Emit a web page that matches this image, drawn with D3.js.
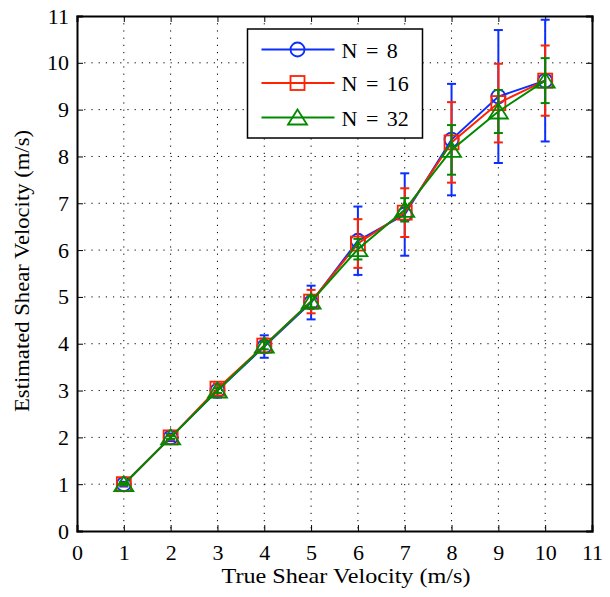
<!DOCTYPE html>
<html lang="en">
<head>
<meta charset="UTF-8">
<title>Estimated vs True Shear Velocity</title>
<script src="https://d3js.org/d3.v7.min.js"></script>
<style>
    body { margin: 0; background: #fff; }
    svg { display: block; font-family: 'Liberation Serif', 'Times New Roman', serif; }
    .grid line { stroke: #000; stroke-width: 1; stroke-dasharray: 1.2, 6; }
</style>
</head>
<body>
<div id="chart"></div>
<script>
// true shear velocity (x positions)
const trueVel = [1, 2, 3, 4, 5, 6, 7, 8, 9, 10];

// estimated means per number of samples
const meanN8  = [1.0, 2.0, 3.0, 3.94, 4.88, 6.20, 6.76, 8.36, 9.28, 9.62];
const meanN16 = [1.0, 2.0, 3.04, 3.96, 4.90, 6.14, 6.80, 8.30, 9.14, 9.62];
const meanN32 = [1.0, 2.0, 3.0, 3.96, 4.90, 6.02, 6.86, 8.14, 8.96, 9.62];

// half-length of error bars (std)
const errN8  = [0.05, 0.08, 0.15, 0.24, 0.36, 0.73, 0.88, 1.19, 1.42, 1.30];
const errN16 = [0.03, 0.05, 0.10, 0.15, 0.25, 0.52, 0.52, 0.86, 0.84, 0.75];
const errN32 = [0.02, 0.03, 0.05, 0.08, 0.12, 0.22, 0.25, 0.53, 0.46, 0.48];

const seriesNames = ["N = 8", "N = 16", "N = 32"];
const xTicks = d3.range(0, 12);
const yTicks = d3.range(0, 12);

const W = 610, H = 597;
const margin = { top: 16, right: 18, bottom: 66, left: 77 };
const innerW = W - margin.left - margin.right;
const innerH = H - margin.top - margin.bottom;

const colors = ["#0a2eff", "#ff2200", "#008a00"];
const shapes = ["circle", "square", "triangle"];

const series = seriesNames.map((name, k) => ({
    name: name,
    color: colors[k],
    shape: shapes[k],
    values: trueVel.map((x, i) => ({
        x: x,
        y: [meanN8, meanN16, meanN32][k][i],
        e: [errN8, errN16, errN32][k][i]
    }))
}));

const svg = d3.select("#chart").append("svg")
    .attr("width", W)
    .attr("height", H);

const g = svg.append("g")
    .attr("transform", `translate(${margin.left},${margin.top})`);

const x = d3.scaleLinear().domain([0, 11]).range([0, innerW]);
const y = d3.scaleLinear().domain([0, 11]).range([innerH, 0]);

// dotted grid
const grid = g.append("g").attr("class", "grid");
grid.selectAll(".vx").data(xTicks.slice(1, -1)).enter().append("line")
    .attr("x1", d => x(d)).attr("x2", d => x(d))
    .attr("y1", 0).attr("y2", innerH);
grid.selectAll(".hy").data(yTicks.slice(1, -1)).enter().append("line")
    .attr("y1", d => y(d)).attr("y2", d => y(d))
    .attr("x1", 0).attr("x2", innerW);

// axes with inward ticks on all four sides
const tickLen = 6;
g.append("g")
    .attr("transform", `translate(0,${innerH})`)
    .call(d3.axisBottom(x).tickValues(xTicks).tickSize(-tickLen).tickPadding(13).tickFormat(d3.format("d")));
g.append("g")
    .call(d3.axisTop(x).tickValues(xTicks).tickSize(-tickLen).tickFormat(""));
g.append("g")
    .call(d3.axisLeft(y).tickValues(yTicks).tickSize(-tickLen).tickPadding(8).tickFormat(d3.format("d")));
g.append("g")
    .attr("transform", `translate(${innerW},0)`)
    .call(d3.axisRight(y).tickValues(yTicks).tickSize(-tickLen).tickFormat(""));

g.selectAll(".domain").attr("stroke", "#000").attr("stroke-width", 2);
g.selectAll(".tick line").attr("stroke", "#000").attr("stroke-width", 1);
g.selectAll(".tick text")
    .attr("fill", "#000")
    .style("font-size", "22px")
    .style("font-family", "'Liberation Serif', 'Times New Roman', serif");

// marker drawing helper
function drawMarker(sel, shape, color) {
    if (shape === "circle") {
        sel.append("circle").attr("r", 7)
            .attr("fill", "none").attr("stroke", color).attr("stroke-width", 1.8);
    } else if (shape === "square") {
        sel.append("rect").attr("x", -7).attr("y", -7).attr("width", 14).attr("height", 14)
            .attr("fill", "none").attr("stroke", color).attr("stroke-width", 1.8);
    } else {
        sel.append("path").attr("d", "M0,-8L9.5,7L-9.5,7Z")
            .attr("fill", "none").attr("stroke", color).attr("stroke-width", 1.8)
            .attr("stroke-linejoin", "miter");
    }
}

const line = d3.line().x(d => x(d.x)).y(d => y(d.y));
const cap = 4.5;

series.forEach(s => {
    const sg = g.append("g");
    // error bars
    const eb = sg.selectAll(".eb").data(s.values).enter().append("g")
        .attr("stroke", s.color).attr("stroke-width", 2);
    eb.append("line")
        .attr("x1", d => x(d.x)).attr("x2", d => x(d.x))
        .attr("y1", d => y(d.y - d.e)).attr("y2", d => y(d.y + d.e));
    eb.append("line")
        .attr("x1", d => x(d.x) - cap).attr("x2", d => x(d.x) + cap)
        .attr("y1", d => y(d.y + d.e)).attr("y2", d => y(d.y + d.e));
    eb.append("line")
        .attr("x1", d => x(d.x) - cap).attr("x2", d => x(d.x) + cap)
        .attr("y1", d => y(d.y - d.e)).attr("y2", d => y(d.y - d.e));
    // connecting line
    sg.append("path").datum(s.values)
        .attr("fill", "none").attr("stroke", s.color).attr("stroke-width", 2)
        .attr("d", line);
    // markers
    sg.selectAll(".mk").data(s.values).enter().append("g")
        .attr("transform", d => `translate(${x(d.x)},${y(d.y)})`)
        .each(function() { drawMarker(d3.select(this), s.shape, s.color); });
});

// legend
const legend = g.append("g").attr("transform", `translate(${247.5 - margin.left},${29 - margin.top})`);
legend.append("rect")
    .attr("width", 175).attr("height", 109)
    .attr("fill", "#fff").attr("stroke", "#000").attr("stroke-width", 1.5);
const rowY = [20.5, 54, 88.5];
series.forEach((s, k) => {
    const row = legend.append("g").attr("transform", `translate(0,${rowY[k]})`);
    row.append("line").attr("x1", 14).attr("x2", 87)
        .attr("stroke", s.color).attr("stroke-width", 2);
    const m = row.append("g").attr("transform", "translate(50,0)");
    drawMarker(m, s.shape, s.color);
    row.append("text").attr("x", 94).attr("y", 8)
        .style("font-size", "22px").style("word-spacing", "3px").attr("fill", "#000")
        .text(s.name);
});

// axis labels
svg.append("text")
    .attr("x", 346).attr("y", 583)
    .attr("text-anchor", "middle")
    .attr("textLength", 249).attr("lengthAdjust", "spacingAndGlyphs")
    .style("font-size", "21px")
    .text("True Shear Velocity (m/s)");
svg.append("text")
    .attr("transform", `translate(29,271) rotate(-90)`)
    .attr("text-anchor", "middle")
    .attr("textLength", 282).attr("lengthAdjust", "spacingAndGlyphs")
    .style("font-size", "21px")
    .text("Estimated Shear Velocity (m/s)");
</script>
</body>
</html>
